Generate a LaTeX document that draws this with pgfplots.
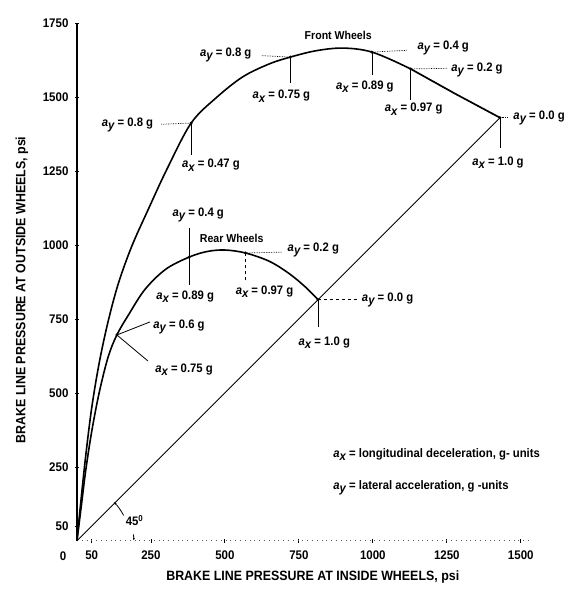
\documentclass[border=0pt]{standalone}
\usepackage{fontspec}
\setmainfont[FakeStretch=0.92]{Liberation Sans}
\usepackage{pgfplots}
\pgfplotsset{compat=1.18}
\usetikzlibrary{arrows.meta}
\newcommand{\ax}{{\itshape a}\raisebox{-0.5ex}{\itshape x}}
\newcommand{\ay}{{\itshape a}\raisebox{-0.5ex}{\itshape y}}
\newcommand{\af}{\bfseries\fontsize{12.3}{14}\selectfont}
\begin{document}
\begin{tikzpicture}
\begin{axis}[
  x=0.296pt, y=0.296pt,
  xmin=0, xmax=1530, ymin=0, ymax=1750,
  axis x line*=bottom, axis y line*=left,
  x axis line style={loosely dotted, line width=0.8pt, gray!70!black},
  y axis line style={line width=1.3pt},
  xtick={50,250,500,750,1000,1250,1500},
  ytick={50,250,500,750,1000,1250,1500,1750},
  tick align=center, major tick length=4pt,
  tick style={black, line width=0.8pt},
  ticklabel style={font=\bfseries\fontsize{12.5}{14}\selectfont},
  xticklabel style={yshift=-4pt},
  yticklabel style={xshift=-3pt},
  /pgf/number format/assume math mode=true,
  /pgf/number format/1000 sep={},
  clip=false,
]
% Front wheels
\addplot[black, line width=1.6pt, smooth, tension=0.55] coordinates {
(0,0)(15,150)(30,290)(50,450)(75,600)(105,740)(140,870)(185,995)(240,1118)(305,1258)(386,1412)(470,1497)(560,1568)(650,1612)(721,1635)(800,1655)(876,1665)(940,1663)(997,1652)(1060,1627)(1128,1595)};
\addplot[black, line width=1.7pt] coordinates {(1128,1595)(1275,1513)(1430,1430)};
% Rear wheels
\addplot[black, line width=1.6pt, smooth, tension=0.55] coordinates {
(0,0)(15,120)(30,240)(50,370)(75,500)(105,620)(135,696)(175,765)(230,850)(300,918)(379,959)(440,978)(500,983)(570,973)(650,945)(715,905)(770,860)(815,815)};
% 45 degree line
\addplot[black, line width=0.9pt] coordinates {(0,0)(1430,1430)};
% marked points
\addplot[only marks, mark=o, mark size=1.2pt, black, line width=0.6pt] coordinates {
(386,1412)(721,1635)(997,1652)(1128,1595)(1430,1430)(135,696)(379,959)(570,973)(815,815)};

% Front annotations
\draw[densely dotted, line width=0.7pt] (axis cs:285,1408) -- (axis cs:386,1412);
\draw[line width=0.8pt] (axis cs:386,1412) -- (axis cs:386,1304);
\node[font=\af] at (axis cs:171,1405) {\ay\ = 0.8 g};
\node[font=\af] at (axis cs:453,1270) {\ax\ = 0.47 g};

\draw[densely dotted, line width=0.7pt] (axis cs:625,1640) -- (axis cs:721,1635);
\draw[line width=0.8pt] (axis cs:721,1635) -- (axis cs:721,1547);
\node[font=\af] at (axis cs:503,1642) {\ay\ = 0.8 g};
\node[font=\af] at (axis cs:691,1503) {\ax\ = 0.75 g};

\draw[densely dotted, line width=0.7pt] (axis cs:997,1652) -- (axis cs:1115,1658);
\draw[line width=0.8pt] (axis cs:997,1652) -- (axis cs:997,1574);
\node[font=\af] at (axis cs:1238,1665) {\ay\ = 0.4 g};
\node[font=\af] at (axis cs:973,1534) {\ax\ = 0.89 g};

\draw[densely dotted, line width=0.7pt] (axis cs:1128,1595) -- (axis cs:1250,1597);
\draw[line width=0.8pt] (axis cs:1128,1595) -- (axis cs:1128,1490);
\node[font=\af] at (axis cs:1352,1591) {\ay\ = 0.2 g};
\node[font=\af] at (axis cs:1138,1459) {\ax\ = 0.97 g};

\draw[densely dotted, line width=0.7pt] (axis cs:1430,1430) -- (axis cs:1458,1430);
\draw[line width=0.8pt] (axis cs:1430,1430) -- (axis cs:1430,1328);
\node[font=\af] at (axis cs:1562,1429) {\ay\ = 0.0 g};
\node[font=\af] at (axis cs:1423,1277) {\ax\ = 1.0 g};

\node[font=\bfseries\fontsize{11.5}{13}\selectfont] at (axis cs:883,1709) {Front Wheels};

% Rear annotations
\draw[line width=0.8pt] (axis cs:135,696) -- (axis cs:247,740);
\draw[line width=0.8pt] (axis cs:135,696) -- (axis cs:240,608);
\node[font=\af] at (axis cs:345,723) {\ay\ = 0.6 g};
\node[font=\af] at (axis cs:362,578) {\ax\ = 0.75 g};

\draw[line width=0.8pt] (axis cs:379,1057) -- (axis cs:379,865);
\node[font=\af] at (axis cs:410,1101) {\ay\ = 0.4 g};
\node[font=\af] at (axis cs:366,824) {\ax\ = 0.89 g};

\draw[dashed, line width=0.8pt] (axis cs:570,973) -- (axis cs:570,872);
\draw[densely dotted, line width=0.7pt] (axis cs:570,973) -- (axis cs:695,976);
\node[font=\af] at (axis cs:634,841) {\ax\ = 0.97 g};
\node[font=\af] at (axis cs:799,983) {\ay\ = 0.2 g};

\draw[dashed, line width=0.7pt] (axis cs:815,815) -- (axis cs:945,815);
\draw[line width=0.8pt] (axis cs:815,815) -- (axis cs:815,723);
\node[font=\af] at (axis cs:1050,814) {\ay\ = 0.0 g};
\node[font=\af] at (axis cs:836,669) {\ax\ = 1.0 g};

\node[font=\bfseries\fontsize{11.5}{13}\selectfont] at (axis cs:523,1024) {Rear Wheels};

% 45 degree arc
\draw[-{Latex[length=3pt]}, line width=0.8pt] (axis cs:158,86) arc[start angle=28, end angle=45, radius=57pt];
\draw[-{Latex[length=3pt]}, line width=0.8pt] (axis cs:191,22) arc[start angle=6.5, end angle=0, radius=57pt];
\node[font=\af] at (axis cs:195,68) {45\textsuperscript{0}};

% definitions
\node[font=\af, anchor=west] at (axis cs:855,291) {\ax\ = longitudinal deceleration, g- units};
\node[font=\af, anchor=west] at (axis cs:855,179) {\ay\ = lateral acceleration, g -units};

% origin label and axis titles
\node[font=\bfseries\fontsize{12.5}{14}\selectfont] at (axis cs:-47,-51) {0};
\node[font=\bfseries\fontsize{13.5}{15}\selectfont] at (axis cs:797,-122) {BRAKE LINE PRESSURE AT INSIDE WHEELS, psi};
\node[font=\bfseries\fontsize{13.5}{15}\selectfont, rotate=90] at (axis cs:-186,848) {BRAKE LINE PRESSURE AT OUTSIDE WHEELS, psi};

\coordinate (bbll) at (axis cs:-260,-193);
\coordinate (bbur) at (axis cs:1655,1828);
\end{axis}
\pgfresetboundingbox
\useasboundingbox (bbll) rectangle (bbur);
\end{tikzpicture}
\end{document}
